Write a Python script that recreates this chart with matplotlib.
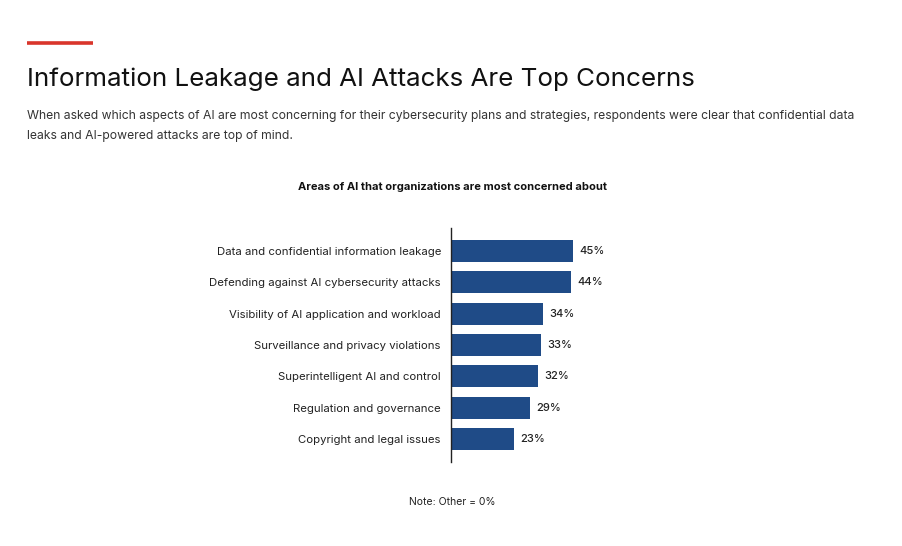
import matplotlib.pyplot as plt
from matplotlib.lines import Line2D

plt.rcParams['font.family'] = ['Inter', 'DejaVu Sans']

# Data
categories = [
    'Data and confidential information leakage',
    'Defending against AI cybersecurity attacks',
    'Visibility of AI application and workload',
    'Surveillance and privacy violations',
    'Superintelligent AI and control',
    'Regulation and governance',
    'Copyright and legal issues',
]
values = [45, 44, 34, 33, 32, 29, 23]

bar_color = '#1f4b87'

fig = plt.figure(figsize=(9.02, 5.46), dpi=100)

# red accent line
fig.add_artist(Line2D([27 / 902, 93 / 902], [1 - 43 / 546, 1 - 43 / 546],
                      color='#d9352b', linewidth=2.6, solid_capstyle='butt'))

fig.text(27 / 902, 1 - 86 / 546, 'Information Leakage and AI Attacks Are Top Concerns',
         fontsize=18.7, fontweight='normal', color='#111111', va='baseline')
fig.text(27 / 902, 1 - 119 / 546,
         'When asked which aspects of AI are most concerning for their cybersecurity plans and strategies, '
         'respondents were clear that confidential data',
         fontsize=8.75, color='#333333', va='baseline')
fig.text(27 / 902, 1 - 139 / 546, 'leaks and AI-powered attacks are top of mind.',
         fontsize=8.75, color='#333333', va='baseline')

fig.text(452 / 902, 1 - 187 / 546, 'Areas of AI that organizations are most concerned about',
         fontsize=8, fontweight='bold', color='#111111', ha='center', va='center')
fig.text(452 / 902, 1 - 502 / 546, 'Note: Other = 0%',
         fontsize=7.5, color='#222222', ha='center', va='center')

ax = fig.add_axes([451 / 902, 1 - 462 / 546, 272 / 902, 234 / 546])
y = list(range(len(categories)))
bars = ax.barh(y, values, height=0.7, color=bar_color)
ax.set_xlim(0, 100)
ax.set_ylim(6.72, -0.72)
ax.set_yticks(y)
ax.set_yticklabels(categories, fontsize=8.2, color='#222222')
ax.tick_params(axis='y', length=0, pad=7.2)
ax.set_xticks([])
for s in ['top', 'right', 'bottom']:
    ax.spines[s].set_visible(False)
ax.spines['left'].set_linewidth(1)
ax.spines['left'].set_color('#222222')

for yi, v in zip(y, values):
    ax.annotate(f'{v}%', (v, yi), xytext=(4.5, 0), textcoords='offset points',
                fontsize=8, fontweight='medium', color='#222222', va='center', ha='left')

fig.savefig('out.png', dpi=100)
